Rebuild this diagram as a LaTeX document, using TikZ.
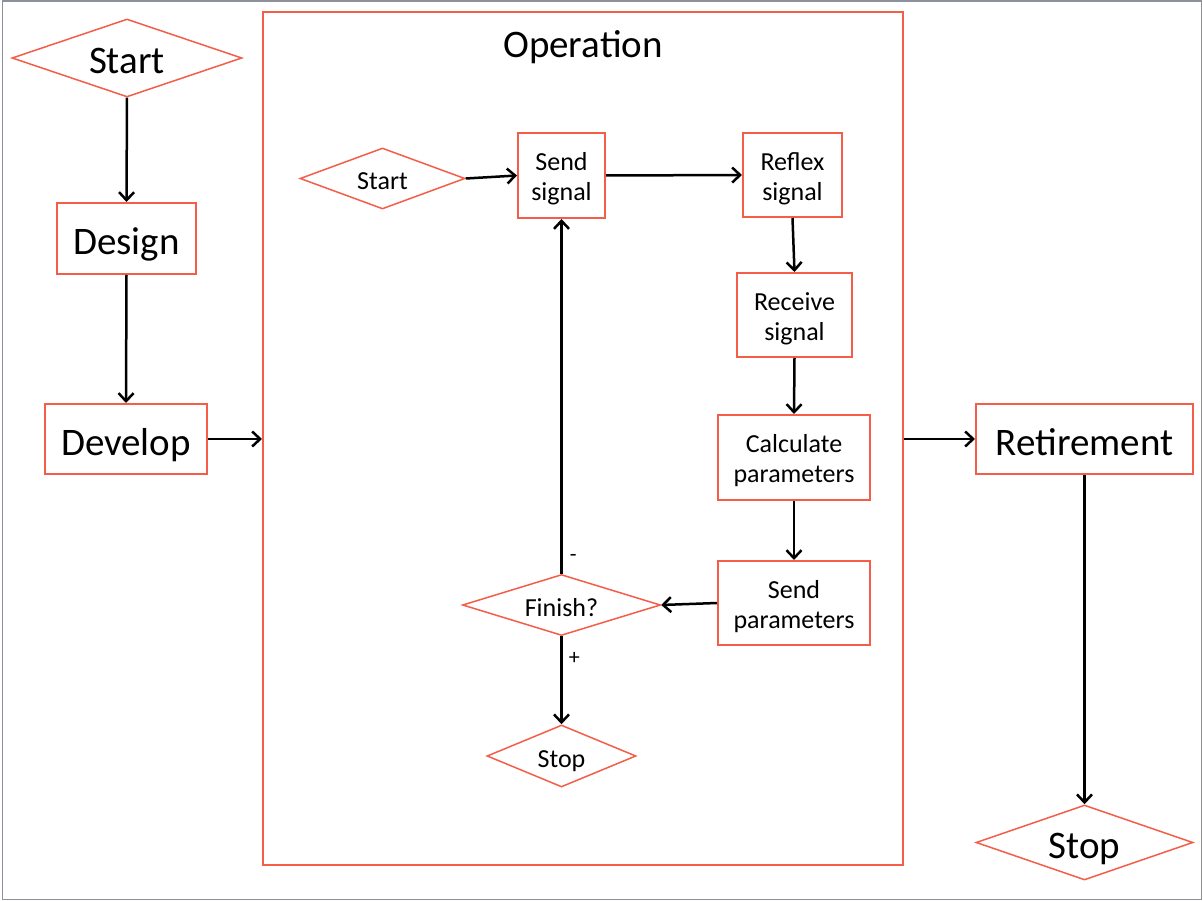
\documentclass[tikz,border=0pt]{standalone}
\usepackage{fontspec}
\setmainfont{Carlito}
\usetikzlibrary{shapes.geometric,arrows.meta}
\definecolor{boxred}{RGB}{244,94,72}
\definecolor{framegray}{RGB}{140,144,152}
\newcommand{\twoline}[2]{\begin{tabular}[t]{@{}c@{}}#1\\#2\end{tabular}}
\begin{document}
\begin{tikzpicture}[x=1pt,y=-1pt,
  box/.style={draw=boxred,line width=2pt,fill=white,inner sep=0pt,align=center},
  bigtext/.style={font=\fontsize{39}{41}\selectfont,text height=32pt,text depth=0pt},
  smalltext/.style={font=\fontsize{26}{30}\selectfont,text height=30pt,text depth=39pt},
  smallone/.style={font=\fontsize{26}{30}\selectfont,text height=23pt,text depth=0pt},
  dia/.style={draw=boxred,line width=1.5pt,fill=white,diamond,aspect=3,inner sep=0pt},
  conn/.style={line width=2.5pt,-{Straight Barb[length=8pt,width=15pt]}},
  lbl/.style={font=\fontsize{22}{24}\selectfont,inner sep=0pt}]
\useasboundingbox (0,0) rectangle (1203,901);
\draw[framegray,line width=1.5pt] (2.5,1) rectangle (1201.5,899.5);

% outer flow
\node[dia,bigtext,minimum width=230pt,minimum height=78pt] (start) at (127,58) {Start};
\node[box,bigtext,minimum width=139pt,minimum height=71pt] (design) at (126.5,238.5) {Design};
\node[box,bigtext,minimum width=162pt,minimum height=70pt] (develop) at (126,439) {Develop};
\node[draw=boxred,line width=2pt,minimum width=640pt,minimum height=853pt,inner sep=0pt] (op) at (583,438.5) {};
\node[font=\fontsize{39}{41}\selectfont,inner sep=0pt,anchor=base] (optitle) at (583,58) {Operation};
\node[box,bigtext,minimum width=217pt,minimum height=70pt] (retire) at (1084.5,439) {Retirement};
\node[dia,bigtext,minimum width=217pt,minimum height=75pt] (stop) at (1084.5,842.5) {Stop};

% inner flow
\node[dia,smallone,minimum width=165pt,minimum height=61pt] (istart) at (382.5,178.5) {Start};
\node[box,smalltext,minimum width=87pt,minimum height=85pt] (sendsig) at (561.5,175.5) {\twoline{Send}{signal}};
\node[box,smalltext,minimum width=99pt,minimum height=84pt] (reflex) at (792.5,175) {\twoline{Reflex}{signal}};
\node[box,smalltext,minimum width=115pt,minimum height=84pt] (receive) at (794.5,315) {\twoline{Receive}{signal}};
\node[box,smalltext,minimum width=152pt,minimum height=85pt] (calc) at (794,457.5) {\twoline{Calculate}{parameters}};
\node[box,smalltext,minimum width=152pt,minimum height=84pt] (sendpar) at (794,603) {\twoline{Send}{parameters}};
\node[dia,smallone,minimum width=198pt,minimum height=61pt] (finish) at (561.5,605) {Finish?};
\node[dia,smallone,minimum width=149pt,minimum height=62pt] (istop) at (561.5,756) {Stop};

% connectors
\draw[conn] (start.south) -- (design.north);
\draw[conn] (design.south) -- (develop.north);
\draw[conn] (develop.east) -- (develop.east -| op.west);
\draw[conn] (op.east |- retire.west) -- (retire.west);
\draw[conn] (retire.south) -- (stop.north);

\draw[conn] (istart.east) -- (sendsig.west);
\draw[conn] (sendsig.east) -- (reflex.west);
\draw[conn] (reflex.south) -- (receive.north);
\draw[conn] (receive.south) -- (calc.north);
\draw[conn] (calc.south) -- (sendpar.north);
\draw[conn] (sendpar.west) -- (finish.east);
\draw[conn] (finish.north) -- node[lbl,pos=0.045,right=7pt] {-} (sendsig.south);
\draw[conn] (finish.south) -- node[lbl,pos=0.25,right=6pt] {+} (istop.north);
\end{tikzpicture}
\end{document}
